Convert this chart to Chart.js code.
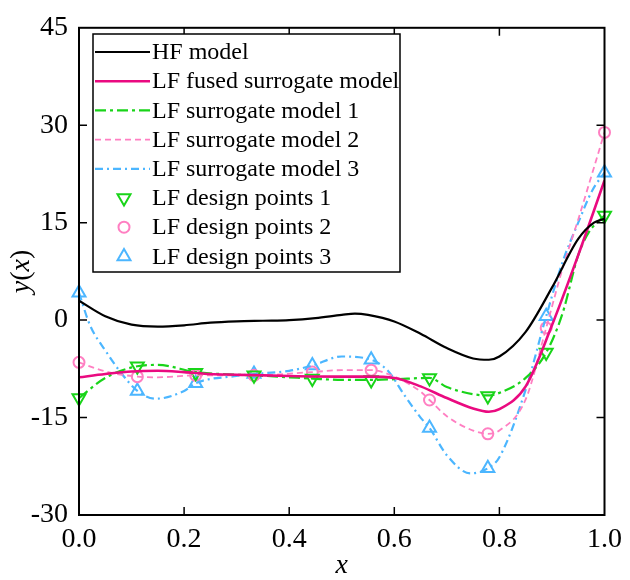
<!DOCTYPE html>
<html lang="en">
<head>
    <meta charset="UTF-8">
    <title>HF / LF surrogate models</title>
    <script src="https://cdn.jsdelivr.net/npm/chart.js"></script>
    <style>
        body {
            margin: 0;
            padding: 0;
            background-color: #ffffff;
        }
        #box {
            width: 630px;
            height: 580px;
        }
    </style>
</head>
<body>
<div id="box"><canvas id="modelChart" width="630" height="580"></canvas></div>
<script>
    // axis ticks
    const xTicks = [0, 0.2, 0.4, 0.6, 0.8, 1.0];
    const yTicks = [-30, -15, 0, 15, 30, 45];

    // design point locations (shared by the three LF sets)
    const designX = [0, 0.111, 0.222, 0.333, 0.444, 0.556, 0.667, 0.778, 0.889, 1.0];
    const design1 = [-12.0, -7.1, -8.1, -8.5, -9.0, -9.2, -8.9, -11.7, -5.0, 16.1];
    const design2 = [-6.5, -8.7, -8.5, -8.5, -8.0, -7.7, -12.3, -17.5, -1.2, 28.9];
    const design3 = [4.2, -10.9, -9.7, -8.3, -7.0, -6.1, -16.6, -22.8, 0.6, 22.7];

    // curves
    const hfX = [0, 0.05, 0.1, 0.15, 0.2, 0.25, 0.3, 0.35, 0.4, 0.45, 0.5, 0.525, 0.55, 0.6, 0.65, 0.7, 0.75, 0.78, 0.8, 0.85, 0.9, 0.95, 0.98, 1.0];
    const hfY = [3.0, 0.6, -0.7, -1.0, -0.8, -0.4, -0.2, -0.1, 0.0, 0.3, 0.8, 1.0, 0.8, -0.2, -2.1, -4.3, -5.9, -6.1, -5.6, -1.8, 5.0, 12.5, 15.0, 15.6];

    const fusedX = [0, 0.05, 0.1, 0.15, 0.2, 0.25, 0.3, 0.4, 0.5, 0.55, 0.6, 0.65, 0.7, 0.75, 0.78, 0.8, 0.85, 0.9, 0.95, 1.0];
    const fusedY = [-8.8, -8.3, -7.9, -7.8, -8.0, -8.3, -8.4, -8.6, -8.7, -8.7, -8.9, -10.2, -12.0, -13.6, -14.1, -13.7, -10.2, -0.8, 10.0, 21.5];

    const lf1X = [0, 0.05, 0.111, 0.15, 0.222, 0.3, 0.333, 0.4, 0.444, 0.5, 0.556, 0.6, 0.667, 0.7, 0.75, 0.778, 0.8, 0.85, 0.889, 0.92, 0.95, 0.97, 1.0];
    const lf1Y = [-12.0, -8.9, -7.1, -6.9, -8.0, -8.4, -8.5, -8.8, -9.0, -9.2, -9.2, -9.1, -8.9, -10.3, -11.4, -11.6, -11.2, -8.9, -5.0, 1.0, 10.0, 13.5, 16.1];

    const lf2X = [0, 0.05, 0.111, 0.15, 0.222, 0.333, 0.444, 0.5, 0.556, 0.6, 0.65, 0.667, 0.7, 0.75, 0.778, 0.8, 0.85, 0.889, 0.92, 0.95, 0.98, 1.0];
    const lf2Y = [-6.5, -7.9, -8.7, -8.8, -8.5, -8.5, -8.0, -7.7, -7.7, -8.7, -11.0, -12.3, -14.8, -17.0, -17.5, -17.0, -12.2, -1.2, 7.9, 15.5, 23.5, 28.9];

    const lf3X = [0, 0.021, 0.052, 0.078, 0.111, 0.146, 0.2, 0.222, 0.3, 0.333, 0.4, 0.444, 0.5, 0.556, 0.589, 0.618, 0.65, 0.667, 0.7, 0.745, 0.778, 0.8, 0.85, 0.889, 0.92, 0.95, 0.977, 1.0];
    const lf3Y = [4.2, -0.8, -4.9, -7.9, -10.9, -12.1, -10.9, -9.7, -8.6, -8.3, -7.8, -7.0, -5.6, -6.1, -7.9, -11.4, -15.0, -16.6, -20.8, -23.6, -22.8, -21.1, -10.7, 0.6, 8.9, 15.0, 20.0, 22.7];

    const serif = "'Liberation Serif', 'Times New Roman', serif";

    function pts(xs, ys) {
        return xs.map((x, i) => ({ x: x, y: ys[i] }));
    }

    function curve(label, xs, ys, color, width, dash) {
        return {
            type: 'line', label: label, data: pts(xs, ys),
            borderColor: color, borderWidth: width, borderDash: dash,
            pointRadius: 0, fill: false, cubicInterpolationMode: 'monotone'
        };
    }

    function marks(label, ys, color, style, rot, r) {
        return {
            type: 'scatter', label: label, data: pts(designX, ys),
            borderColor: color, backgroundColor: 'rgba(0,0,0,0)', borderWidth: 2,
            pointStyle: style, rotation: rot, pointRadius: r, showLine: false, clip: false
        };
    }

    // frame, inward ticks, axis titles and the boxed legend
    const decor = {
        id: 'decor',
        afterDatasetsDraw(chart) {
            const ctx = chart.ctx, a = chart.chartArea;
            const sx = chart.scales.x, sy = chart.scales.y;
            ctx.save();
            ctx.strokeStyle = '#000';
            ctx.lineWidth = 1.5;
            ctx.beginPath();
            xTicks.slice(1, -1).forEach(v => {
                const p = sx.getPixelForValue(v);
                ctx.moveTo(p, a.bottom); ctx.lineTo(p, a.bottom - 8);
                ctx.moveTo(p, a.top); ctx.lineTo(p, a.top + 8);
            });
            yTicks.slice(1, -1).forEach(v => {
                const p = sy.getPixelForValue(v);
                ctx.moveTo(a.left, p); ctx.lineTo(a.left + 8, p);
                ctx.moveTo(a.right, p); ctx.lineTo(a.right - 8, p);
            });
            ctx.stroke();
            ctx.lineWidth = 2;
            ctx.strokeRect(a.left, a.top, a.right - a.left, a.bottom - a.top);

            // axis titles
            ctx.fillStyle = '#000';
            ctx.textBaseline = 'middle';
            ctx.textAlign = 'center';
            ctx.font = 'italic 28px ' + serif;
            ctx.fillText('x', (a.left + a.right) / 2, 566);

            ctx.save();
            ctx.translate(22, (a.top + a.bottom) / 2);
            ctx.rotate(-Math.PI / 2);
            const parts = [['y', 'italic'], ['(', 'normal'], ['x', 'italic'], [')', 'normal']];
            let total = 0;
            parts.forEach(p => { ctx.font = p[1] + ' 28px ' + serif; total += ctx.measureText(p[0]).width; });
            let cx = -total / 2;
            ctx.textAlign = 'left';
            parts.forEach(p => {
                ctx.font = p[1] + ' 28px ' + serif;
                ctx.fillText(p[0], cx, 0);
                cx += ctx.measureText(p[0]).width;
            });
            ctx.restore();

            // legend
            const lx = 93, ly = 34, lw = 307, lh = 238;
            ctx.fillStyle = '#fff';
            ctx.fillRect(lx, ly, lw, lh);
            ctx.lineWidth = 1.5;
            ctx.strokeStyle = '#000';
            ctx.strokeRect(lx, ly, lw, lh);
            ctx.font = '24px ' + serif;
            ctx.textAlign = 'left';
            ctx.textBaseline = 'middle';
            chart.data.datasets.forEach((ds, i) => {
                const ry = 52 + i * 29.2;
                if (ds.type === 'line') {
                    ctx.save();
                    ctx.strokeStyle = ds.borderColor;
                    ctx.lineWidth = ds.borderWidth;
                    ctx.setLineDash(ds.borderDash || []);
                    ctx.beginPath();
                    ctx.moveTo(95, ry); ctx.lineTo(150, ry);
                    ctx.stroke();
                    ctx.restore();
                } else {
                    ctx.save();
                    ctx.strokeStyle = ds.borderColor;
                    ctx.fillStyle = 'rgba(0,0,0,0)';
                    ctx.lineWidth = ds.borderWidth;
                    Chart.helpers.drawPoint(ctx, {
                        pointStyle: ds.pointStyle, rotation: ds.rotation,
                        radius: ds.pointRadius, borderWidth: ds.borderWidth
                    }, 124, ry);
                    ctx.restore();
                }
                ctx.fillStyle = '#000';
                ctx.fillText(ds.label, 152, ry + 1);
            });
            ctx.restore();
        }
    };

    const ctx = document.getElementById('modelChart').getContext('2d');
    new Chart(ctx, {
        type: 'scatter',
        data: {
            datasets: [
                curve('HF model', hfX, hfY, '#000000', 2.2, []),
                curve('LF fused surrogate model', fusedX, fusedY, '#ea0a80', 2.6, []),
                curve('LF surrogate model 1', lf1X, lf1Y, '#19d419', 2.2, [11, 4, 3, 4]),
                curve('LF surrogate model 2', lf2X, lf2Y, '#ff7fc2', 1.8, [6, 4]),
                curve('LF surrogate model 3', lf3X, lf3Y, '#4cb6ff', 2.2, [8, 4, 2, 4]),
                marks('LF design points 1', design1, '#19d419', 'triangle', 180, 7.5),
                marks('LF design points 2', design2, '#ff7fc2', 'circle', 0, 5.5),
                marks('LF design points 3', design3, '#4cb6ff', 'triangle', 0, 7.5)
            ]
        },
        options: {
            responsive: false,
            animation: false,
            layout: { padding: { left: 0, top: 23, right: 21, bottom: 0 } },
            plugins: { legend: { display: false }, tooltip: { enabled: false } },
            scales: {
                x: {
                    type: 'linear', min: 0, max: 1,
                    afterFit: s => { s.height = 65; },
                    afterBuildTicks: s => { s.ticks = xTicks.map(v => ({ value: v })); },
                    grid: { display: false, drawTicks: false },
                    border: { display: false },
                    ticks: {
                        padding: 8, color: '#000',
                        font: { family: serif, size: 28 },
                        callback: v => v.toFixed(1)
                    }
                },
                y: {
                    type: 'linear', min: -30, max: 45,
                    afterFit: s => { s.width = 79; },
                    afterBuildTicks: s => { s.ticks = yTicks.map(v => ({ value: v })); },
                    grid: { display: false, drawTicks: false },
                    border: { display: false },
                    ticks: {
                        padding: 11, color: '#000',
                        font: { family: serif, size: 28 },
                        callback: v => String(v)
                    }
                }
            }
        },
        plugins: [decor]
    });
</script>
</body>
</html>
